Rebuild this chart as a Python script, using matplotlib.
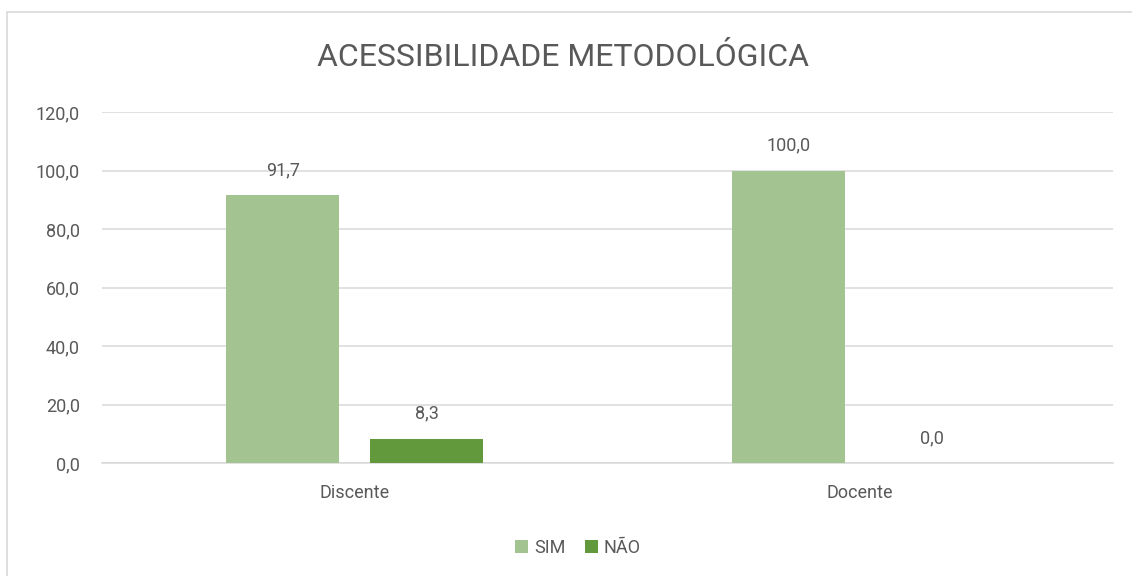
import matplotlib.pyplot as plt
import numpy as np
from matplotlib.patches import Rectangle

plt.rcParams['font.family'] = ['Roboto', 'DejaVu Sans']

# Dados do gráfico (%)
categorias = ['Discente', 'Docente']
sim = [91.7, 100.0]
nao = [8.3, 0.0]
series = ['SIM', 'NÃO']
y_ticks = [0, 20, 40, 60, 80, 100, 120]

cor_sim = '#A3C490'
cor_nao = '#62993D'
cor_texto = '#595959'
cor_grade = '#D9D9D9'

fig = plt.figure(figsize=(11.32, 5.76), dpi=100)
ax = fig.add_axes([102 / 1132, 113 / 576, 1011 / 1132, 350.7 / 576])

# moldura externa (só as bordas de cima e da esquerda ficam dentro da imagem)
fig.patches.append(Rectangle((7 / 1132, -20 / 576), 1140 / 1132, 584 / 576,
                             transform=fig.transFigure, fill=False,
                             edgecolor=cor_grade, linewidth=1.2))

x = np.arange(len(categorias))
largura = 0.2236
desloc = 0.1425

b1 = ax.bar(x - desloc, sim, largura, color=cor_sim, label=series[0], zorder=3)
b2 = ax.bar(x + desloc, nao, largura, color=cor_nao, label=series[1], zorder=3)

for barras in (b1, b2):
    for b in barras:
        v = b.get_height()
        ax.annotate(f'{v:.1f}'.replace('.', ','),
                    (b.get_x() + b.get_width() / 2, v),
                    xytext=(0, 18), textcoords='offset points',
                    ha='center', va='center', fontsize=13, color=cor_texto)

ax.set_xlim(-0.5, 1.5)
ax.set_ylim(0, 120)
ax.set_yticks(y_ticks)
ax.set_yticklabels([f'{t:.1f}'.replace('.', ',') for t in y_ticks])
ax.set_xticks(x)
ax.set_xticklabels(categorias)

ax.yaxis.grid(True, color=cor_grade, linewidth=1.1, zorder=0)
ax.set_axisbelow(True)
for lado in ['top', 'right', 'left']:
    ax.spines[lado].set_visible(False)
ax.spines['bottom'].set_color(cor_grade)
ax.spines['bottom'].set_linewidth(1.1)

ax.tick_params(axis='y', length=0, pad=16, labelsize=13, labelcolor=cor_texto)
ax.tick_params(axis='x', length=0, pad=15, labelsize=13, labelcolor=cor_texto)

fig.text(563 / 1132, 1 - 58 / 576, 'ACESSIBILIDADE METODOLÓGICA',
         ha='center', va='center', fontsize=23, color=cor_texto)

fig.legend(loc='center', bbox_to_anchor=(578 / 1132, 1 - 548 / 576),
           ncol=2, frameon=False, fontsize=13, labelcolor=cor_texto,
           handlelength=0.72, handleheight=0.72, handletextpad=0.35,
           columnspacing=1.05)

fig.savefig('out.png', dpi=100)
